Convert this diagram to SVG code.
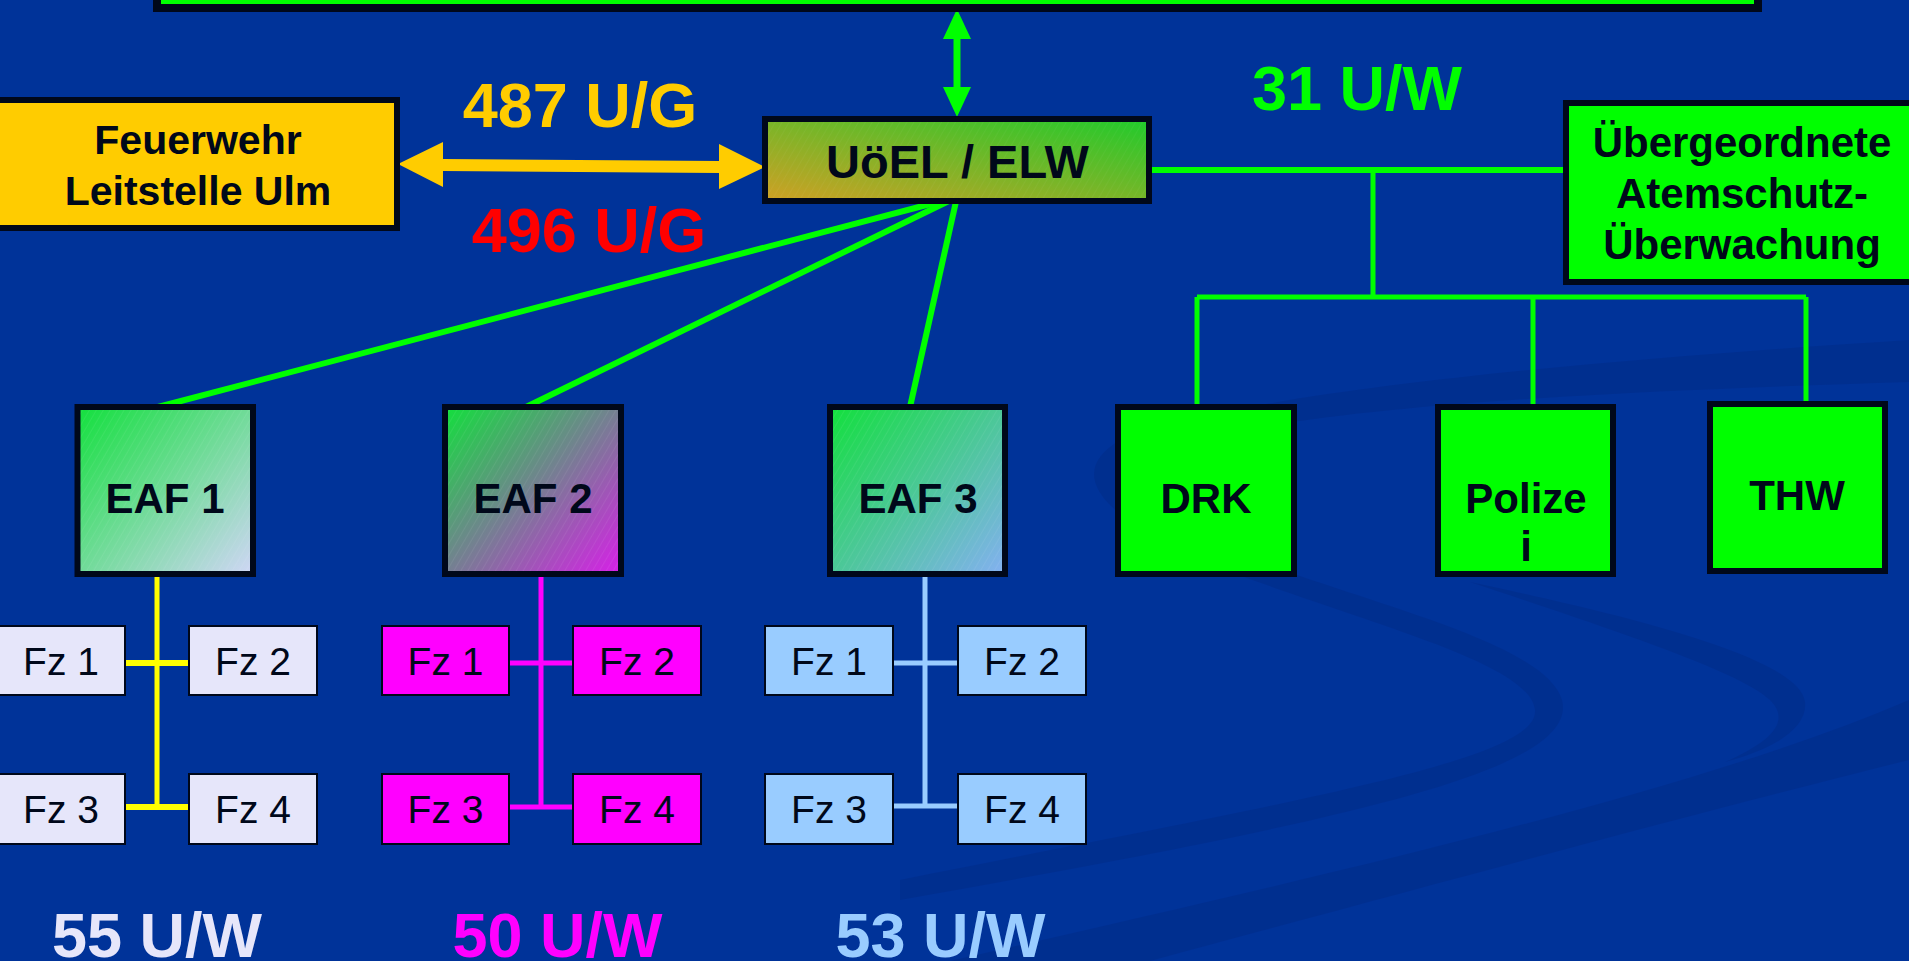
<svg xmlns="http://www.w3.org/2000/svg" width="1909" height="961" viewBox="0 0 1909 961">
<defs>
<style>
.bx{stroke:#00081A;stroke-width:6}
.b{font-family:"Liberation Sans",Arial,sans-serif;font-weight:bold;text-anchor:middle;fill:#00081A}
.big{font-family:"Liberation Sans",Arial,sans-serif;font-weight:bold;text-anchor:middle;font-size:63px}
.fz{stroke:#00081A;stroke-width:2}
.fzt{font-family:"Liberation Sans",Arial,sans-serif;font-size:39px;text-anchor:middle;fill:#00081A}
.g{stroke:#00FF00;fill:none}
</style>
<linearGradient id="gU" x1="0" y1="1" x2="1" y2="0">
<stop offset="0" stop-color="#D0A024"/><stop offset="1" stop-color="#1FCB2C"/>
</linearGradient>
<linearGradient id="gE1" x1="0" y1="0" x2="1" y2="1">
<stop offset="0" stop-color="#12E03C"/><stop offset="1" stop-color="#D0D6F6"/>
</linearGradient>
<linearGradient id="gE2" x1="0" y1="0" x2="1" y2="1">
<stop offset="0" stop-color="#12E03C"/><stop offset="1" stop-color="#D81EE8"/>
</linearGradient>
<linearGradient id="gE3" x1="0" y1="0" x2="1" y2="1">
<stop offset="0" stop-color="#12E03C"/><stop offset="1" stop-color="#84B0F2"/>
</linearGradient>
<pattern id="hatch" width="6" height="6" patternUnits="userSpaceOnUse" patternTransform="rotate(30)">
<line x1="0" y1="0" x2="0" y2="6" stroke="#FFFFFF" stroke-width="1" opacity="0.12"/>
</pattern>
</defs>
<rect x="0" y="0" width="1909" height="961" fill="#003399"/>
<g id="background-swooshes" fill="#00287F" opacity="0.35">
<path d="M1909 340 C1600 360 1250 390 1120 440 C1070 470 1090 510 1200 560 C1350 620 1530 660 1535 710 C1540 760 1300 800 900 880 L900 900 C1350 820 1580 770 1562 700 C1545 640 1350 600 1230 550 C1120 505 1110 470 1150 452 C1300 405 1600 392 1909 382 Z"/>
<path d="M1470 582 C1650 620 1800 660 1805 702 C1808 730 1770 750 1725 762 C1775 740 1790 720 1770 700 C1740 672 1620 632 1470 582 Z"/>
<path d="M1909 700 C1700 790 1350 870 950 961 L1150 961 C1450 880 1700 812 1909 760 Z"/>
</g>
<g id="connectors">
<line class="g" x1="957" y1="38" x2="957" y2="88" stroke-width="7"/>
<polygon points="957,9 943,39 971,39" fill="#00FF00"/>
<polygon points="957,117 943,87 971,87" fill="#00FF00"/>
<polygon points="398,164 443,142 443,159 719,161 719,144 765,167 719,189 719,173 443,171 443,187" fill="#FFCC00"/>
<line class="g" x1="1152" y1="170" x2="1563" y2="170" stroke-width="6"/>
<line class="g" x1="1373" y1="170" x2="1373" y2="297" stroke-width="5"/>
<line class="g" x1="1197" y1="297" x2="1806" y2="297" stroke-width="5"/>
<line class="g" x1="1197" y1="297" x2="1197" y2="404" stroke-width="5"/>
<line class="g" x1="1533" y1="297" x2="1533" y2="404" stroke-width="5"/>
<line class="g" x1="1806" y1="297" x2="1806" y2="401" stroke-width="5"/>
<line class="g" x1="957" y1="197" x2="158" y2="407" stroke-width="6"/>
<line class="g" x1="957" y1="197" x2="526" y2="407" stroke-width="6"/>
<line class="g" x1="957" y1="197" x2="910" y2="407" stroke-width="6"/>
<g stroke="#FFFF00">
<line x1="157" y1="568" x2="157" y2="807" stroke-width="5"/>
<line x1="125" y1="663" x2="189" y2="663" stroke-width="6"/>
<line x1="125" y1="807" x2="189" y2="807" stroke-width="6"/>
</g>
<g stroke="#FF00FF">
<line x1="541" y1="568" x2="541" y2="807" stroke-width="5"/>
<line x1="509" y1="663" x2="573" y2="663" stroke-width="5"/>
<line x1="509" y1="807" x2="573" y2="807" stroke-width="5"/>
</g>
<g stroke="#99CCFF">
<line x1="925" y1="568" x2="925" y2="806" stroke-width="5"/>
<line x1="893" y1="663" x2="958" y2="663" stroke-width="5"/>
<line x1="893" y1="806" x2="958" y2="806" stroke-width="5"/>
</g>
</g>
<g id="top-box"><rect x="157" y="-20" width="1601" height="28" fill="#00FF00" stroke="#00081A" stroke-width="8"/></g>
<g id="feuerwehr">
<rect class="bx" x="-10" y="100" width="407" height="128" fill="#FFCC00"/>
<text class="b" x="198" y="154" font-size="41">Feuerwehr</text>
<text class="b" x="198" y="205" font-size="41">Leitstelle Ulm</text>
</g>
<g id="labels-ug">
<text class="big" x="580" y="127" fill="#FFCC00">487 U/G</text>
<text class="big" x="589" y="252" fill="#FF0000">496 U/G</text>
<text class="big" x="1357" y="110" fill="#00FF00">31 U/W</text>
</g>
<g id="uoel">
<rect class="bx" x="765" y="119" width="384" height="82" fill="url(#gU)"/>
<rect x="768" y="122" width="378" height="76" fill="url(#hatch)" opacity="0.6"/>
<text class="b" x="957.5" y="178" font-size="47">UöEL / ELW</text>
</g>
<g id="uebergeordnete">
<rect class="bx" x="1566" y="103" width="400" height="179" fill="#00FF00"/>
<text class="b" x="1742" y="157" font-size="42">Übergeordnete</text>
<text class="b" x="1742" y="208" font-size="42">Atemschutz-</text>
<text class="b" x="1742" y="259" font-size="42">Überwachung</text>
</g>
<g id="eaf1">
<rect class="bx" x="77.5" y="407" width="175.5" height="167" fill="url(#gE1)"/>
<rect x="80.5" y="410" width="169.5" height="161" fill="url(#hatch)"/>
<text class="b" x="165" y="513" font-size="42">EAF 1</text>
</g>
<g id="eaf2">
<rect class="bx" x="445" y="407" width="176" height="167" fill="url(#gE2)"/>
<rect x="448" y="410" width="170" height="161" fill="url(#hatch)"/>
<text class="b" x="533" y="513" font-size="42">EAF 2</text>
</g>
<g id="eaf3">
<rect class="bx" x="830" y="407" width="175" height="167" fill="url(#gE3)"/>
<rect x="833" y="410" width="169" height="161" fill="url(#hatch)"/>
<text class="b" x="918" y="513" font-size="42">EAF 3</text>
</g>
<g id="drk">
<rect class="bx" x="1118" y="407" width="176" height="167" fill="#00FF00"/>
<text class="b" x="1206" y="513" font-size="42">DRK</text>
</g>
<g id="polizei">
<rect class="bx" x="1438" y="407" width="175" height="167" fill="#00FF00"/>
<text class="b" x="1526" y="513" font-size="42">Polize</text>
<text class="b" x="1526" y="561" font-size="42">i</text>
</g>
<g id="thw">
<rect class="bx" x="1710" y="404" width="175" height="167" fill="#00FF00"/>
<text class="b" x="1797" y="510" font-size="42">THW</text>
</g>
<g id="g1-fz1"><rect class="fz" x="-3" y="626" width="128" height="69" fill="#E6E6FA"/><text class="fzt" x="61" y="675">Fz 1</text></g>
<g id="g1-fz2"><rect class="fz" x="189" y="626" width="128" height="69" fill="#E6E6FA"/><text class="fzt" x="253" y="675">Fz 2</text></g>
<g id="g1-fz3"><rect class="fz" x="-3" y="774" width="128" height="70" fill="#E6E6FA"/><text class="fzt" x="61" y="823">Fz 3</text></g>
<g id="g1-fz4"><rect class="fz" x="189" y="774" width="128" height="70" fill="#E6E6FA"/><text class="fzt" x="253" y="823">Fz 4</text></g>
<g id="g2-fz1"><rect class="fz" x="382" y="626" width="127" height="69" fill="#FF00FF"/><text class="fzt" x="445.5" y="675">Fz 1</text></g>
<g id="g2-fz2"><rect class="fz" x="573" y="626" width="128" height="69" fill="#FF00FF"/><text class="fzt" x="637" y="675">Fz 2</text></g>
<g id="g2-fz3"><rect class="fz" x="382" y="774" width="127" height="70" fill="#FF00FF"/><text class="fzt" x="445.5" y="823">Fz 3</text></g>
<g id="g2-fz4"><rect class="fz" x="573" y="774" width="128" height="70" fill="#FF00FF"/><text class="fzt" x="637" y="823">Fz 4</text></g>
<g id="g3-fz1"><rect class="fz" x="765" y="626" width="128" height="69" fill="#99CCFF"/><text class="fzt" x="829" y="675">Fz 1</text></g>
<g id="g3-fz2"><rect class="fz" x="958" y="626" width="128" height="69" fill="#99CCFF"/><text class="fzt" x="1022" y="675">Fz 2</text></g>
<g id="g3-fz3"><rect class="fz" x="765" y="774" width="128" height="70" fill="#99CCFF"/><text class="fzt" x="829" y="823">Fz 3</text></g>
<g id="g3-fz4"><rect class="fz" x="958" y="774" width="128" height="70" fill="#99CCFF"/><text class="fzt" x="1022" y="823">Fz 4</text></g>
<g id="labels-uw">
<text class="big" x="157" y="957" fill="#E6E6FA">55 U/W</text>
<text class="big" x="557.5" y="957" fill="#FF00FF">50 U/W</text>
<text class="big" x="940.5" y="957" fill="#99CCFF">53 U/W</text>
</g>
</svg>
